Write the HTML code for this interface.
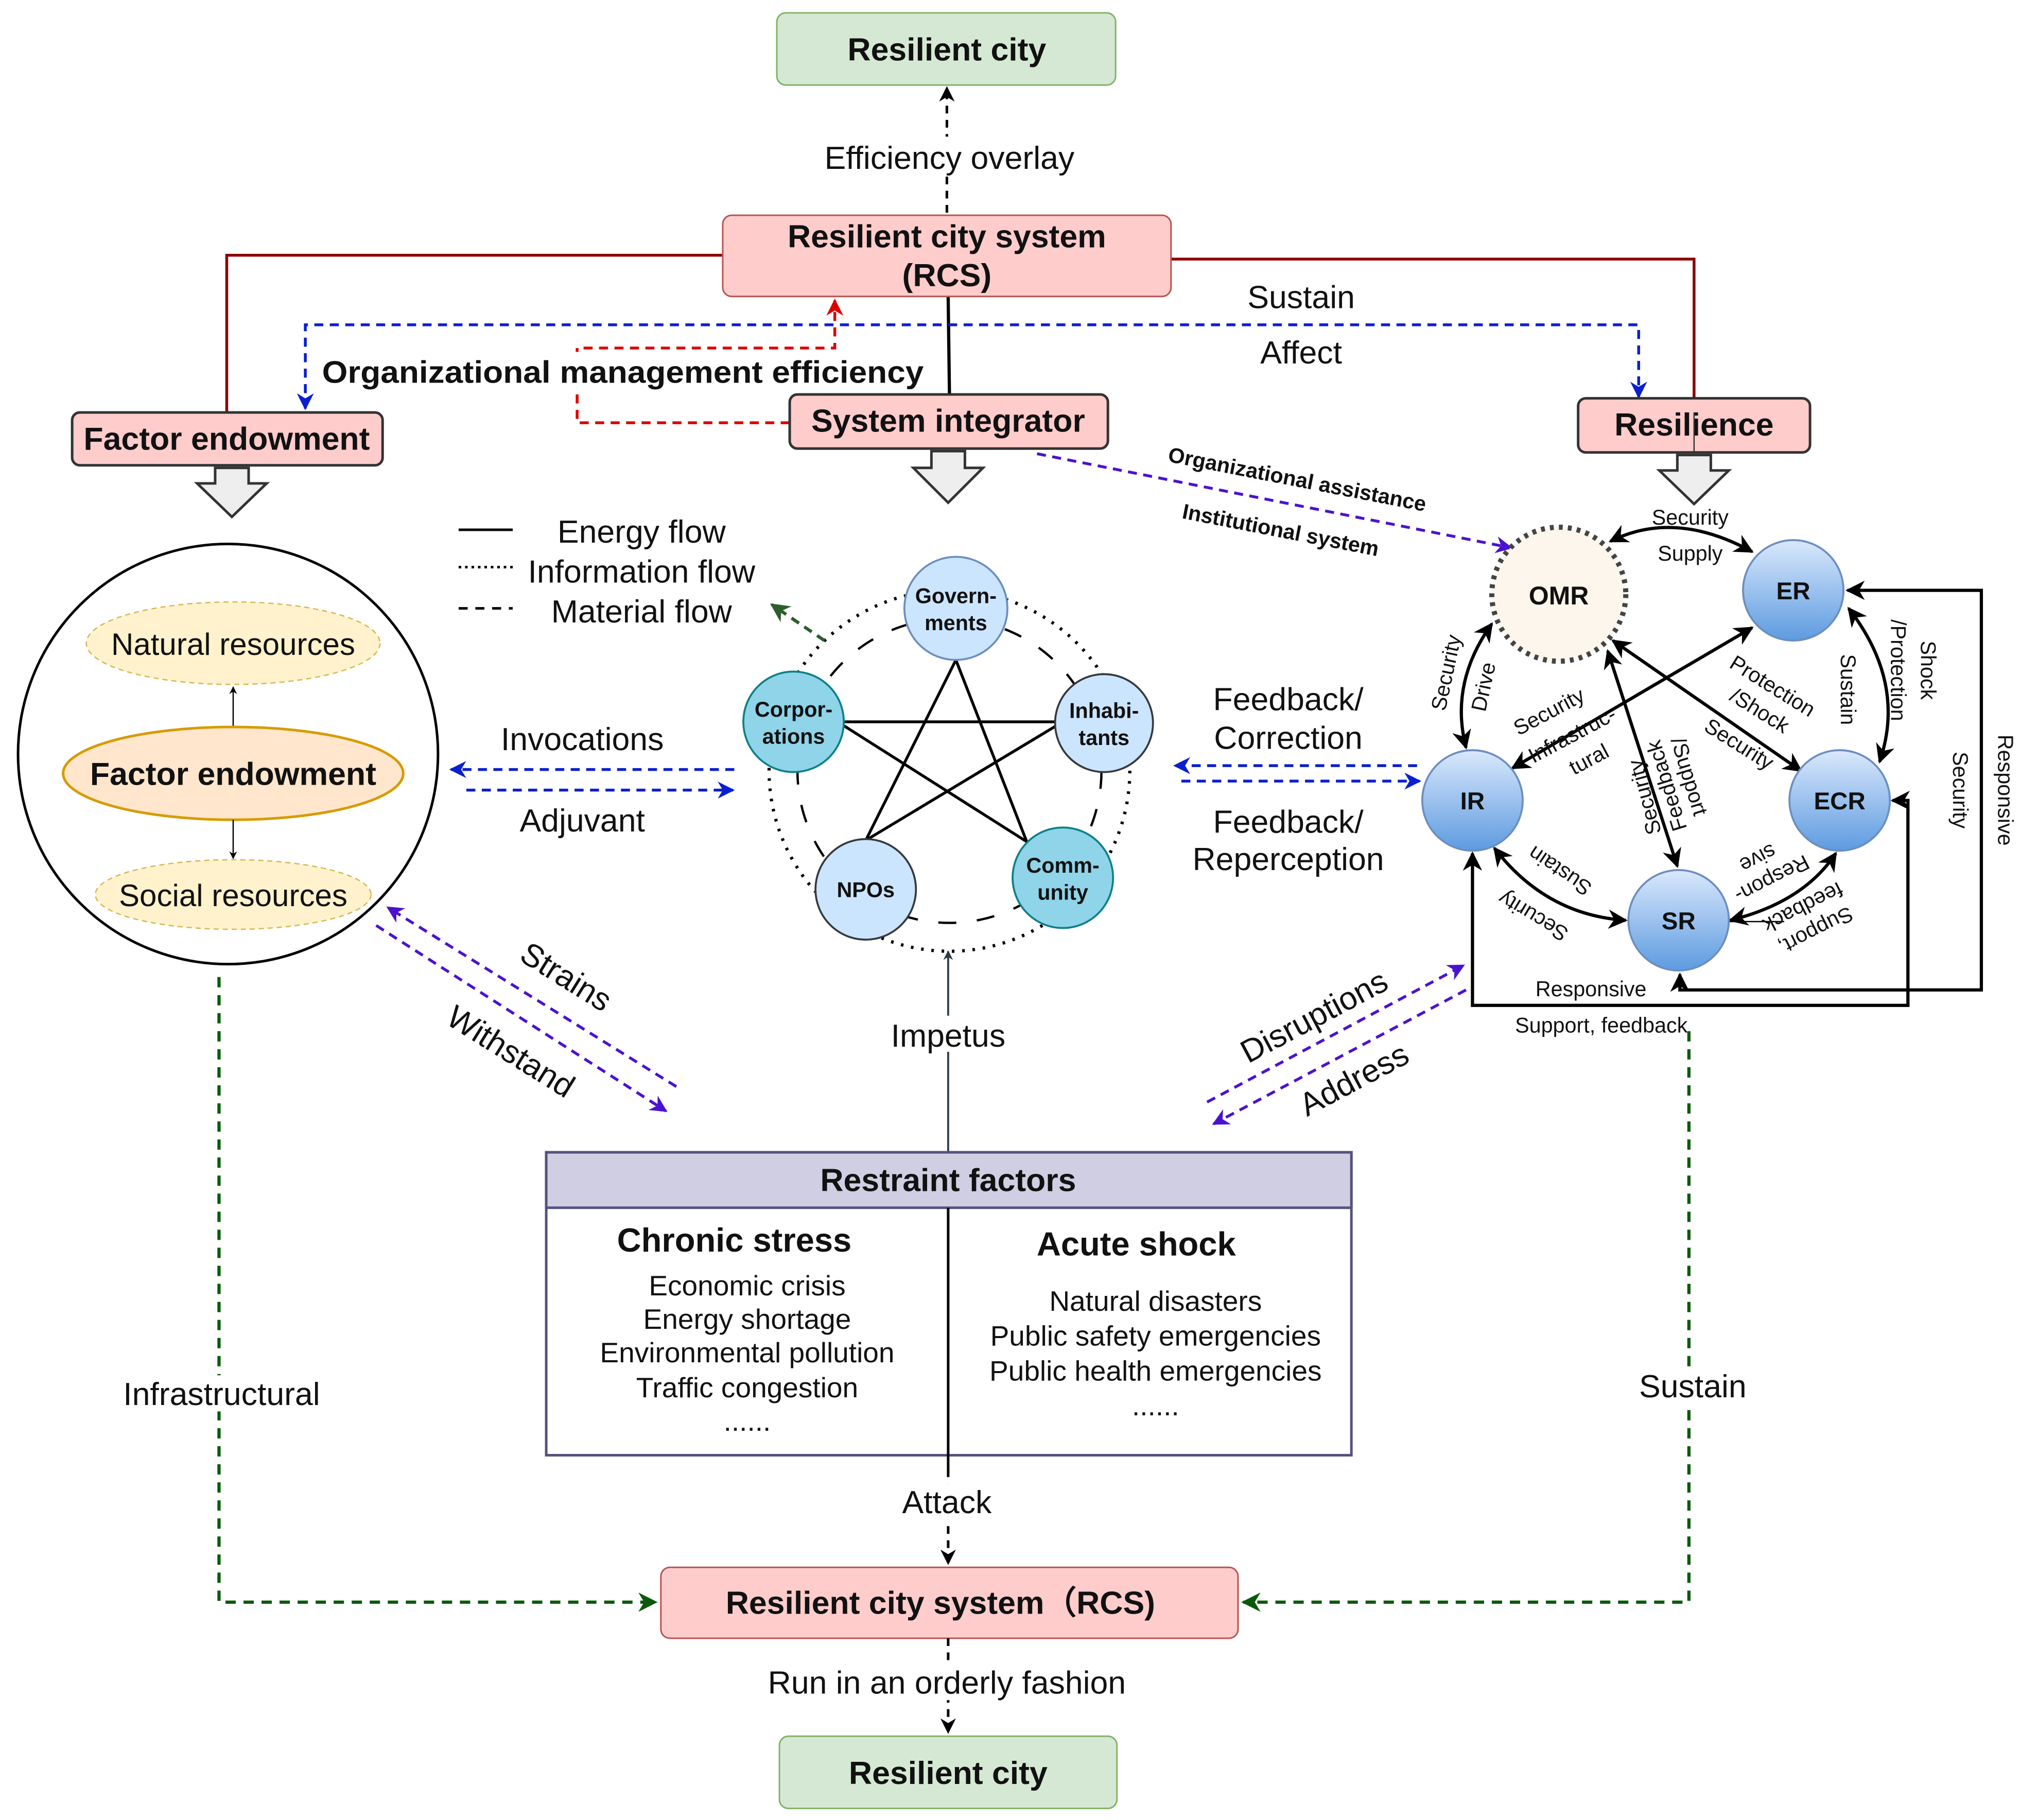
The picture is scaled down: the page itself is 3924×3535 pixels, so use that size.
<!DOCTYPE html>
<html><head><meta charset="utf-8"><style>
html,body{margin:0;padding:0;background:#fff}
svg{display:block}
text{font-family:"Liberation Sans",Arial,sans-serif;fill:#111}
</style></head><body>
<svg width="3924" height="3535" viewBox="0 0 1568 1412" preserveAspectRatio="none" xmlns="http://www.w3.org/2000/svg">
<defs>
<marker id="ab" viewBox="0 0 10 10" refX="9" refY="5" markerWidth="6" markerHeight="6" orient="auto-start-reverse"><path d="M0,0 L10,5 L0,10 L3,5z" fill="#000"/></marker>
<marker id="abl" viewBox="0 0 10 10" refX="9" refY="5" markerWidth="6" markerHeight="6" orient="auto-start-reverse"><path d="M0,0 L10,5 L0,10 L3,5z" fill="#0a1fd0"/></marker>
<marker id="apu" viewBox="0 0 10 10" refX="9" refY="5" markerWidth="6" markerHeight="6" orient="auto-start-reverse"><path d="M0,0 L10,5 L0,10 L3,5z" fill="#4a12d0"/></marker>
<marker id="ar" viewBox="0 0 10 10" refX="9" refY="5" markerWidth="6" markerHeight="6" orient="auto-start-reverse"><path d="M0,0 L10,5 L0,10 L3,5z" fill="#d00"/></marker>
<marker id="ag" viewBox="0 0 10 10" refX="9" refY="5" markerWidth="6" markerHeight="6" orient="auto-start-reverse"><path d="M0,0 L10,5 L0,10 L3,5z" fill="#0a5a0a"/></marker>
<marker id="adg" viewBox="0 0 10 10" refX="9" refY="5" markerWidth="6" markerHeight="6" orient="auto-start-reverse"><path d="M0,0 L10,5 L0,10 L3,5z" fill="#2e5e2e"/></marker>
<marker id="an" viewBox="0 0 10 10" refX="9" refY="5" markerWidth="5" markerHeight="5" orient="auto-start-reverse"><path d="M0,0 L10,5 L0,10 L3,5z" fill="#2a3a4a"/></marker>
<linearGradient id="gb2" x1="0" y1="0" x2="0" y2="1"><stop offset="0" stop-color="#dae8fc"/><stop offset="1" stop-color="#5d9be0"/></linearGradient>
</defs>

<rect x="603" y="10" width="263" height="56" rx="7" fill="#d5e8d4" stroke="#82b366" stroke-width="1.2"/>
<text x="735" y="47" font-size="25" font-weight="bold" text-anchor="middle">Resilient city</text>
<line x1="735" y1="165" x2="735" y2="68" stroke="#000" stroke-width="2" stroke-dasharray="6,5" marker-end="url(#ab)"/>
<rect x="632" y="106" width="210" height="30" fill="#fff"/>
<text x="737" y="131" font-size="25" text-anchor="middle">Efficiency overlay</text>

<path d="M561,198 H176 V320" fill="none" stroke="#8b0000" stroke-width="2.2"/>
<path d="M909,201 H1315 V310" fill="none" stroke="#8b0000" stroke-width="2.2"/>
<line x1="736" y1="230" x2="737" y2="306" stroke="#000" stroke-width="2.5"/>
<path d="M237,317 V252 H1272 V308" fill="none" stroke="#0a1fd0" stroke-width="2.2" stroke-dasharray="7,5" marker-start="url(#abl)" marker-end="url(#abl)"/>
<text x="1010" y="239" font-size="25" text-anchor="middle">Sustain</text>
<text x="1010" y="282" font-size="25" text-anchor="middle">Affect</text>
<path d="M613,328 H448 V270 H648 V233" fill="none" stroke="#d00" stroke-width="2.2" stroke-dasharray="7,5" marker-end="url(#ar)"/>
<rect x="250" y="273" width="468" height="28" fill="#fff"/>
<text x="250" y="297" font-size="24" font-weight="bold" textLength="467" lengthAdjust="spacingAndGlyphs">Organizational management efficiency</text>

<rect x="561" y="167" width="348" height="63" rx="7" fill="#ffcccc" stroke="#b85450" stroke-width="1.2"/>
<text x="735" y="192" font-size="25" font-weight="bold" text-anchor="middle">Resilient city system</text>
<text x="735" y="222" font-size="25" font-weight="bold" text-anchor="middle">(RCS)</text>

<rect x="56" y="320" width="241" height="41" rx="6" fill="#ffcccc" stroke="#333" stroke-width="2"/>
<text x="176" y="349" font-size="25" font-weight="bold" text-anchor="middle">Factor endowment</text>
<rect x="613" y="306" width="247" height="42" rx="6" fill="#ffcccc" stroke="#333" stroke-width="2"/>
<text x="736" y="335" font-size="25" font-weight="bold" text-anchor="middle">System integrator</text>
<rect x="1225" y="309" width="180" height="42" rx="6" fill="#ffcccc" stroke="#333" stroke-width="2"/>
<text x="1315" y="338" font-size="25" font-weight="bold" text-anchor="middle">Resilience</text>
<line x1="1315" y1="320" x2="1315" y2="352" stroke="#333" stroke-width="1"/>

<g fill="#eee" stroke="#333" stroke-width="2">
<path d="M167,363 H193 V375 H207 L180,401 L153,375 H167Z"/>
<path d="M723,350 H749 V363 H763 L736,390 L709,363 H723Z"/>
<path d="M1302,353 H1328 V365 H1342 L1315,391 L1288,365 H1302Z"/>
</g>

<circle cx="177" cy="585" r="163" fill="#fff" stroke="#000" stroke-width="2"/>
<ellipse cx="181" cy="499" rx="114" ry="32" fill="#fff2cc" stroke="#d6b656" stroke-dasharray="4,3"/>
<text x="181" y="508" font-size="24" text-anchor="middle">Natural resources</text>
<ellipse cx="181" cy="600" rx="132" ry="36" fill="#ffe6cc" stroke="#d79b00" stroke-width="2"/>
<text x="181" y="609" font-size="25" font-weight="bold" text-anchor="middle">Factor endowment</text>
<ellipse cx="181" cy="694" rx="107" ry="27" fill="#fff2cc" stroke="#d6b656" stroke-dasharray="4,3"/>
<text x="181" y="703" font-size="24" text-anchor="middle">Social resources</text>
<line x1="181" y1="563" x2="181" y2="533" stroke="#000" stroke-width="1" marker-end="url(#ab)"/>
<line x1="181" y1="636" x2="181" y2="666" stroke="#000" stroke-width="1" marker-end="url(#ab)"/>

<line x1="356" y1="411" x2="398" y2="411" stroke="#000" stroke-width="2"/>
<line x1="356" y1="440" x2="398" y2="440" stroke="#000" stroke-width="2" stroke-dasharray="2,3"/>
<line x1="356" y1="472" x2="398" y2="472" stroke="#000" stroke-width="2" stroke-dasharray="7,6"/>
<text x="498" y="421" font-size="25" text-anchor="middle">Energy flow</text>
<text x="498" y="452" font-size="25" text-anchor="middle">Information flow</text>
<text x="498" y="483" font-size="25" text-anchor="middle">Material flow</text>

<circle cx="737" cy="598" r="140" fill="none" stroke="#000" stroke-width="2.5" stroke-dasharray="2,6"/>
<circle cx="737" cy="598" r="118" fill="none" stroke="#000" stroke-width="1.8" stroke-dasharray="14,16"/>
<line x1="640" y1="497" x2="599" y2="469" stroke="#2e5e2e" stroke-width="2.5" stroke-dasharray="7,5" marker-end="url(#adg)"/>
<g stroke="#000" stroke-width="2.2">
<line x1="742" y1="512" x2="672" y2="652"/>
<line x1="742" y1="512" x2="797" y2="653"/>
<line x1="655" y1="560" x2="820" y2="560"/>
<line x1="655" y1="563" x2="797" y2="653"/>
<line x1="820" y1="563" x2="672" y2="652"/>
</g>
<circle cx="742" cy="472" r="40" fill="#cce5ff" stroke="#6c8ebf" stroke-width="1.5"/>
<text x="742" y="468" font-size="16.5" font-weight="bold" text-anchor="middle">Govern-</text>
<text x="742" y="489" font-size="16.5" font-weight="bold" text-anchor="middle">ments</text>
<circle cx="616" cy="560" r="39" fill="#8fd4e8" stroke="#0e8088" stroke-width="1.5"/>
<text x="616" y="556" font-size="16.5" font-weight="bold" text-anchor="middle">Corpor-</text>
<text x="616" y="577" font-size="16.5" font-weight="bold" text-anchor="middle">ations</text>
<circle cx="857" cy="561" r="38" fill="#cce5ff" stroke="#36393d" stroke-width="1.5"/>
<text x="857" y="557" font-size="16.5" font-weight="bold" text-anchor="middle">Inhabi-</text>
<text x="857" y="578" font-size="16.5" font-weight="bold" text-anchor="middle">tants</text>
<circle cx="672" cy="690" r="39" fill="#cce5ff" stroke="#36393d" stroke-width="1.5"/>
<text x="672" y="696" font-size="16.5" font-weight="bold" text-anchor="middle">NPOs</text>
<circle cx="825" cy="681" r="39" fill="#8fd4e8" stroke="#0e8088" stroke-width="1.5"/>
<text x="825" y="677" font-size="16.5" font-weight="bold" text-anchor="middle">Comm-</text>
<text x="825" y="698" font-size="16.5" font-weight="bold" text-anchor="middle">unity</text>

<line x1="570" y1="597" x2="350" y2="597" stroke="#0a1fd0" stroke-width="2.2" stroke-dasharray="7,5" marker-end="url(#abl)"/>
<line x1="362" y1="613" x2="569" y2="613" stroke="#0a1fd0" stroke-width="2.2" stroke-dasharray="7,5" marker-end="url(#abl)"/>
<text x="452" y="582" font-size="25" text-anchor="middle">Invocations</text>
<text x="452" y="645" font-size="25" text-anchor="middle">Adjuvant</text>
<line x1="1100" y1="594" x2="912" y2="594" stroke="#0a1fd0" stroke-width="2.2" stroke-dasharray="7,5" marker-end="url(#abl)"/>
<line x1="917" y1="606" x2="1102" y2="606" stroke="#0a1fd0" stroke-width="2.2" stroke-dasharray="7,5" marker-end="url(#abl)"/>
<text x="1000" y="551" font-size="25" text-anchor="middle">Feedback/</text>
<text x="1000" y="581" font-size="25" text-anchor="middle">Correction</text>
<text x="1000" y="646" font-size="25" text-anchor="middle">Feedback/</text>
<text x="1000" y="675" font-size="25" text-anchor="middle">Reperception</text>

<line x1="805" y1="352" x2="1173" y2="425" stroke="#4a12d0" stroke-width="2.2" stroke-dasharray="7,5" marker-end="url(#apu)"/>
<text x="0" y="0" font-size="16.5" font-weight="bold" transform="translate(906,358) rotate(11)">Organizational assistance</text>
<text x="0" y="0" font-size="16.5" font-weight="bold" transform="translate(917,402) rotate(11)">Institutional system</text>

<line x1="525" y1="843" x2="301" y2="704" stroke="#4a12d0" stroke-width="2.2" stroke-dasharray="7,5" marker-end="url(#apu)"/>
<line x1="292" y1="718" x2="517" y2="862" stroke="#4a12d0" stroke-width="2.2" stroke-dasharray="7,5" marker-end="url(#apu)"/>
<text x="0" y="0" font-size="25" text-anchor="middle" transform="translate(435,765) rotate(32)">Strains</text>
<text x="0" y="0" font-size="25" text-anchor="middle" transform="translate(392,823) rotate(32)">Withstand</text>
<line x1="937" y1="855" x2="1136" y2="749" stroke="#4a12d0" stroke-width="2.2" stroke-dasharray="7,5" marker-end="url(#apu)"/>
<line x1="1138" y1="768" x2="942" y2="872" stroke="#4a12d0" stroke-width="2.2" stroke-dasharray="7,5" marker-end="url(#apu)"/>
<text x="0" y="0" font-size="25" text-anchor="middle" transform="translate(1024,796) rotate(-28)">Disruptions</text>
<text x="0" y="0" font-size="25" text-anchor="middle" transform="translate(1055,845) rotate(-28)">Address</text>

<line x1="736" y1="894" x2="736" y2="738" stroke="#2a3a4a" stroke-width="1.5" marker-end="url(#an)"/>
<rect x="690" y="788" width="94" height="28" fill="#fff"/>
<text x="736" y="812" font-size="25" text-anchor="middle">Impetus</text>
<rect x="424" y="894" width="625" height="235" fill="#fff" stroke="#56517e" stroke-width="2"/>
<rect x="424" y="894" width="625" height="43" fill="#d0cee2" stroke="#56517e" stroke-width="2"/>
<text x="736" y="924" font-size="25" font-weight="bold" text-anchor="middle">Restraint factors</text>
<line x1="736" y1="937" x2="736" y2="1140" stroke="#000" stroke-width="2"/>
<text x="570" y="971" font-size="26" font-weight="bold" text-anchor="middle">Chronic stress</text>
<g font-size="22" text-anchor="middle">
<text x="580" y="1005">Economic crisis</text>
<text x="580" y="1031">Energy shortage</text>
<text x="580" y="1057">Environmental pollution</text>
<text x="580" y="1084">Traffic congestion</text>
<text x="580" y="1110">......</text>
<text x="897" y="1017">Natural disasters</text>
<text x="897" y="1044">Public safety emergencies</text>
<text x="897" y="1071">Public health emergencies</text>
<text x="897" y="1098">......</text>
</g>
<text x="882" y="974" font-size="26" font-weight="bold" text-anchor="middle">Acute shock</text>
<line x1="736" y1="1140" x2="736" y2="1213" stroke="#000" stroke-width="2" stroke-dasharray="6,5" marker-end="url(#ab)"/>
<rect x="693" y="1151" width="86" height="28" fill="#fff"/>
<text x="735" y="1174" font-size="25" text-anchor="middle">Attack</text>

<path d="M170,758 V1243 H509" fill="none" stroke="#0a5a0a" stroke-width="2.5" stroke-dasharray="8,6" marker-end="url(#ag)"/>
<rect x="90" y="1067" width="164" height="28" fill="#fff"/>
<text x="172" y="1090" font-size="25" text-anchor="middle">Infrastructural</text>
<path d="M1311,800 V1243 H965" fill="none" stroke="#0a5a0a" stroke-width="2.5" stroke-dasharray="8,6" marker-end="url(#ag)"/>
<rect x="1268" y="1061" width="94" height="28" fill="#fff"/>
<text x="1314" y="1084" font-size="25" text-anchor="middle">Sustain</text>

<rect x="513" y="1216" width="448" height="55" rx="7" fill="#ffcccc" stroke="#b85450" stroke-width="1.2"/>
<text x="730" y="1252" font-size="25" font-weight="bold" text-anchor="middle">Resilient city system（RCS)</text>
<line x1="736" y1="1271" x2="736" y2="1344" stroke="#000" stroke-width="2" stroke-dasharray="6,5" marker-end="url(#ab)"/>
<rect x="588" y="1291" width="296" height="28" fill="#fff"/>
<text x="735" y="1314" font-size="25" text-anchor="middle">Run in an orderly fashion</text>
<rect x="605" y="1347" width="262" height="56" rx="7" fill="#d5e8d4" stroke="#82b366" stroke-width="1.2"/>
<text x="736" y="1384" font-size="25" font-weight="bold" text-anchor="middle">Resilient city</text>

<g stroke="#000" stroke-width="2.5" fill="none">
<path d="M1250,420 Q1300,395 1360,428" marker-start="url(#ab)" marker-end="url(#ab)"/>
<path d="M1158,484 Q1125,530 1138,580" marker-start="url(#ab)" marker-end="url(#ab)"/>
<path d="M1360,487 L1174,596" marker-start="url(#ab)" marker-end="url(#ab)"/>
<path d="M1252,497 L1398,598" marker-start="url(#ab)" marker-end="url(#ab)"/>
<path d="M1248,505 L1302,672" marker-start="url(#ab)" marker-end="url(#ab)"/>
<path d="M1435,472 Q1480,530 1459,591" marker-start="url(#ab)" marker-end="url(#ab)"/>
<path d="M1160,658 Q1200,710 1262,714" marker-start="url(#ab)" marker-end="url(#ab)"/>
<path d="M1343,714 Q1400,700 1425,662" marker-start="url(#ab)" marker-end="url(#ab)"/>
<path d="M1434,458 H1538 V768 H1304 V756" marker-start="url(#ab)" marker-end="url(#ab)"/>
<path d="M1469,621 H1481 V780 H1143 V662" marker-start="url(#ab)" marker-end="url(#ab)"/>
</g>
<line x1="1342" y1="715" x2="1385" y2="715" stroke="#000" stroke-width="1"/>
<circle cx="1210" cy="461" r="52" fill="#fdf6ec" stroke="#444" stroke-width="4" stroke-dasharray="3,4"/>
<text x="1210" y="469" font-size="20" font-weight="bold" text-anchor="middle">OMR</text>
<g stroke="#6c8ebf" stroke-width="1.5" fill="url(#gb2)">
<circle cx="1392" cy="458" r="39"/>
<circle cx="1143" cy="621" r="39"/>
<circle cx="1428" cy="621" r="39"/>
<circle cx="1303" cy="714" r="39"/>
</g>
<g font-size="19" font-weight="bold" text-anchor="middle">
<text x="1392" y="465">ER</text><text x="1143" y="628">IR</text><text x="1428" y="628">ECR</text><text x="1303" y="721">SR</text>
</g>
<g font-size="16.5" text-anchor="middle">
<text x="1312" y="407">Security</text>
<text x="1312" y="435">Supply</text>
<text x="1235" y="773">Responsive</text>
<text x="1243" y="801">Support, feedback</text>
<text transform="translate(1128,523) rotate(-78)" font-family="Liberation Serif">Security</text>
<text transform="translate(1157,534) rotate(-78)">Drive</text>
<text transform="translate(1205,557) rotate(-28)">Security</text>
<text transform="translate(1223,575) rotate(-28)">Infrastruc-</text>
<text transform="translate(1236,594) rotate(-28)">tural</text>
<text transform="translate(1373,537) rotate(32)">Protection</text>
<text transform="translate(1363,556) rotate(32)">/Shock</text>
<text transform="translate(1347,582) rotate(32)">Security</text>
<text transform="translate(1429,535) rotate(90)">Sustain</text>
<text transform="translate(1468,520) rotate(90)">/Protection</text>
<text transform="translate(1491,520) rotate(90)">Shock</text>
<text transform="translate(1516,613) rotate(90)">Security</text>
<text transform="translate(1551,613) rotate(90)">Responsive</text>
<text transform="translate(1282,617) rotate(-105)">Security</text>
<text transform="translate(1299,608) rotate(-107)">Feedback</text>
<text transform="translate(1306,604) rotate(73)">/Support</text>
<text transform="translate(1214,671) rotate(214)">Sustain</text>
<text transform="translate(1193,706) rotate(211)">Security</text>
<text transform="translate(1362,661) rotate(153)">sive</text>
<text transform="translate(1373,677) rotate(153)">Respon-</text>
<text transform="translate(1397,699) rotate(153)">feedback</text>
<text transform="translate(1407,717) rotate(153)">Support,</text>
</g>
</svg>
</body></html>
